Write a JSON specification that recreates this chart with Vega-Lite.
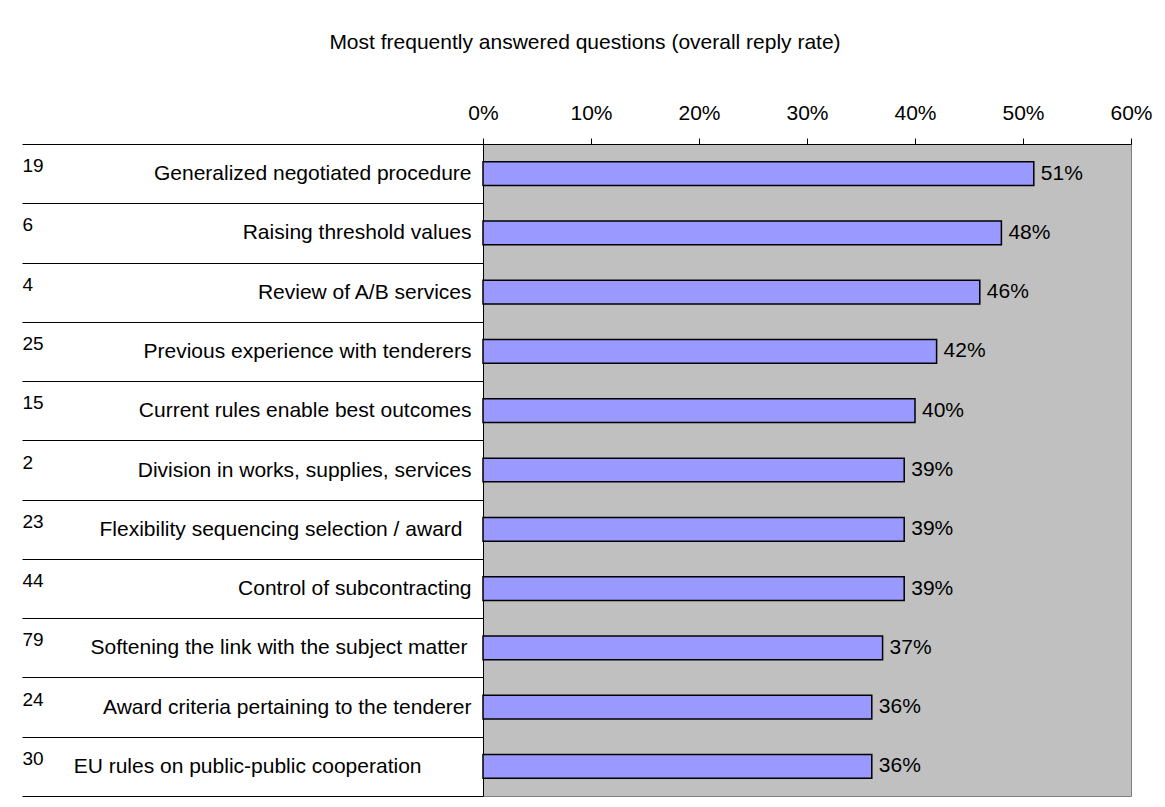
{
  "$schema": "https://vega.github.io/schema/vega-lite/v6.json",
  "width": 648,
  "height": 652,
  "autosize": {"type": "none"},
  "padding": {"left": 483, "top": 144, "right": 34, "bottom": 11},
  "background": "white",
  "config": {
    "font": "Liberation Sans",
    "view": {"fill": "#C0C0C0", "stroke": "#808080", "strokeWidth": 1}
  },
  "title": {
    "text": "Most frequently answered questions (overall reply rate)",
    "fontSize": 21,
    "fontWeight": "normal",
    "color": "#000000",
    "anchor": "middle",
    "dx": -222,
    "offset": 32,
    "baseline": "alphabetic"
  },
  "data": {
    "values": [
      {"no": "19", "question": "Generalized negotiated procedure", "rate": 0.51},
      {"no": "6", "question": "Raising threshold values", "rate": 0.48},
      {"no": "4", "question": "Review of A/B services", "rate": 0.46},
      {"no": "25", "question": "Previous experience with tenderers", "rate": 0.42},
      {"no": "15", "question": "Current rules enable best outcomes", "rate": 0.40},
      {"no": "2", "question": "Division in works, supplies, services", "rate": 0.39},
      {"no": "23", "question": "Flexibility sequencing selection / award", "rate": 0.39},
      {"no": "44", "question": "Control of subcontracting", "rate": 0.39},
      {"no": "79", "question": "Softening the link with the subject matter", "rate": 0.37},
      {"no": "24", "question": "Award criteria pertaining to the tenderer", "rate": 0.36},
      {"no": "30", "question": "EU rules on public-public cooperation", "rate": 0.36}
    ]
  },
  "encoding": {
    "x": {
      "field": "rate",
      "type": "quantitative",
      "scale": {"domain": [0, 0.6], "nice": false, "zero": true},
      "axis": {
        "orient": "top",
        "values": [0, 0.1, 0.2, 0.3, 0.4, 0.5, 0.6],
        "format": ".0%",
        "title": null,
        "grid": false,
        "labelFontSize": 21,
        "labelColor": "#000000",
        "labelBaseline": "alphabetic",
        "labelPadding": 19,
        "labelFlush": false,
        "labelOverlap": false,
        "tickSize": 6,
        "tickColor": "#000000",
        "domainColor": "#000000"
      }
    }
  },
  "layer": [
    {
      "mark": {"type": "bar", "fill": "#9999FF", "stroke": "#000000", "strokeWidth": 1.5, "height": {"band": 0.4}},
      "encoding": {
        "y": {
          "field": "question",
          "type": "nominal",
          "sort": null,
          "scale": {"paddingInner": 0, "paddingOuter": 0},
          "axis": {
            "orient": "left",
            "title": null,
            "grid": false,
            "tickBand": "extent",
            "tickSize": 461,
            "tickColor": "#000000",
            "tickWidth": 1,
            "domainColor": "#000000",
            "labelAlign": "right",
            "labelBaseline": "middle",
            "labelPadding": {
              "condition": [
                {"test": "datum.value === 'EU rules on public-public cooperation'", "value": -399},
                {"test": "datum.value === 'Flexibility sequencing selection / award'", "value": -440},
                {"test": "datum.value === 'Softening the link with the subject matter'", "value": -445}
              ],
              "value": -449
            },
            "labelFontSize": 21,
            "labelColor": "#000000",
            "labelLimit": 1000
          }
        }
      }
    },
    {
      "mark": {"type": "text", "align": "left", "baseline": "middle", "dx": 7, "fontSize": 21, "color": "#000000"},
      "encoding": {
        "y": {
          "field": "no",
          "type": "nominal",
          "sort": null,
          "scale": {"paddingInner": 0, "paddingOuter": 0},
          "axis": {
            "orient": "left",
            "title": null,
            "grid": false,
            "ticks": false,
            "domain": false,
            "labelAlign": "left",
            "labelBaseline": "middle",
            "labelPadding": 461,
            "labelOffset": -8,
            "labelFontSize": 19,
            "labelColor": "#000000",
            "labelLimit": 1000
          }
        },
        "text": {"field": "rate", "type": "quantitative", "format": ".0%"}
      }
    }
  ],
  "resolve": {"scale": {"y": "independent"}, "axis": {"y": "independent"}}
}
